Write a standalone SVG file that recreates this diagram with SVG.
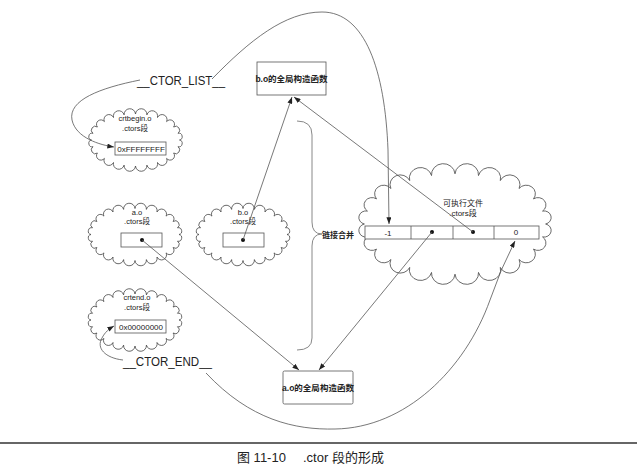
<svg xmlns="http://www.w3.org/2000/svg" xmlns:xlink="http://www.w3.org/1999/xlink" width="639" height="473" viewBox="0 0 639 473">
<style>
.bg{fill:#ffffff}
.cloud{fill:none;stroke:#444;stroke-width:0.8}
.box{fill:#fff;stroke:#555;stroke-width:0.8}
.t{font-family:"Liberation Sans","Noto Sans CJK SC",sans-serif;fill:#222;text-anchor:middle}
.s{font-size:7.5px}
.m{font-size:8px}
.b{font-size:8.5px;font-weight:bold}
.lbl{font-size:13px}
.conn{fill:none;stroke:#555;stroke-width:0.8}
.brace{fill:none;stroke:#888;stroke-width:1}
.dot{fill:#111}
</style>
<defs>
<marker id="ah" viewBox="0 0 8 6" refX="8" refY="3" markerWidth="7" markerHeight="5" markerUnits="userSpaceOnUse" orient="auto">
<path d="M0,0 L8,3 L0,6 Z" fill="#222"/>
</marker>
<path id="cloudS" d="M44,0 A1 1 0 0 1 42.5,6.7 A1 1 0 0 1 38.1,13 A1 1 0 0 1 31.1,18.4 A1 1 0 0 1 22,22.5 A1 1 0 0 1 11.4,25.1 A1 1 0 0 1 0,26 A1 1 0 0 1 -11.4,25.1 A1 1 0 0 1 -22,22.5 A1 1 0 0 1 -31.1,18.4 A1 1 0 0 1 -38.1,13 A1 1 0 0 1 -42.5,6.7 A1 1 0 0 1 -44,0 A1 1 0 0 1 -42.5,-6.7 A1 1 0 0 1 -38.1,-13 A1 1 0 0 1 -31.1,-18.4 A1 1 0 0 1 -22,-22.5 A1 1 0 0 1 -11.4,-25.1 A1 1 0 0 1 0,-26 A1 1 0 0 1 11.4,-25.1 A1 1 0 0 1 22,-22.5 A1 1 0 0 1 31.1,-18.4 A1 1 0 0 1 38.1,-13 A1 1 0 0 1 42.5,-6.7 A1 1 0 0 1 44,0 Z"/>
</defs>
<rect class="bg" x="0" y="0" width="639" height="473"/>

<g id="crtbegin">
<use xlink:href="#cloudS" class="cloud" transform="translate(135.5,140)"/>
<text class="t s" x="135" y="121">crtbegin.o</text>
<text class="t s" x="135" y="131">.ctors段</text>
<rect class="box" x="115" y="142" width="51" height="13"/>
<text class="t m" x="141" y="151.5">0xFFFFFFFF</text>
</g>

<g id="ao">
<use xlink:href="#cloudS" class="cloud" transform="translate(135,234.5)"/>
<text class="t s" x="137" y="214.5">a.o</text>
<text class="t s" x="137" y="224">.ctors段</text>
<rect class="box" x="121" y="233" width="41" height="14"/>
<circle class="dot" cx="142" cy="240" r="2"/>
</g>

<g id="bo">
<use xlink:href="#cloudS" class="cloud" transform="translate(243,234.5)"/>
<text class="t s" x="243" y="214.5">b.o</text>
<text class="t s" x="243" y="224">.ctors段</text>
<rect class="box" x="223" y="233" width="41" height="14"/>
<circle class="dot" cx="243" cy="240" r="2"/>
</g>

<g id="crtend">
<use xlink:href="#cloudS" class="cloud" transform="translate(135,320)"/>
<text class="t s" x="137" y="299.5">crtend.o</text>
<text class="t s" x="137" y="309.5">.ctors段</text>
<rect class="box" x="115" y="320" width="51" height="13"/>
<text class="t m" x="141" y="329.5">0x00000000</text>
</g>

<g id="exe">
<use xlink:href="#cloudS" class="cloud" transform="translate(455,224) scale(2.06,1.93)" style="stroke-width:0.4"/>
<text class="t m" x="463" y="206">可执行文件</text>
<text class="t m" x="463" y="216">.ctors段</text>
<rect class="box" x="365" y="226" width="174" height="13"/>
<line class="conn" x1="411" y1="226" x2="411" y2="239"/>
<line class="conn" x1="453" y1="226" x2="453" y2="239"/>
<line class="conn" x1="494" y1="226" x2="494" y2="239"/>
<text class="t m" x="388" y="235.5">-1</text>
<circle class="dot" cx="432" cy="232" r="2"/>
<circle class="dot" cx="473" cy="232" r="2"/>
<text class="t m" x="516" y="235">0</text>
</g>

<g id="bofunc">
<rect class="box" x="257" y="62" width="69" height="33"/>
<text class="t b" x="291.5" y="82">b.o的全局构造函数</text>
</g>

<g id="aofunc">
<rect class="box" x="283" y="371" width="70" height="33" rx="1.5"/>
<text class="t b" x="318" y="391">a.o的全局构造函数</text>
</g>

<g id="ctorlist">
<text class="t lbl" x="181" y="85" textLength="88" lengthAdjust="spacingAndGlyphs">__CTOR_LIST__</text>
</g>

<g id="ctorend">
<text class="t lbl" x="167.5" y="366" textLength="89" lengthAdjust="spacingAndGlyphs">__CTOR_END__</text>
</g>

<g id="merge">
<path class="brace" d="M297,121 Q312,121 312,135 L312,222 Q312,234 322,234 Q312,234 312,246 L312,338 Q312,350 297,350"/>
<text class="t b" x="338" y="237.5" style="font-size:8px">链接合并</text>
</g>

<g id="connectors">
<path class="conn" d="M142,240 L299,370" marker-end="url(#ah)"/>
<path class="conn" d="M243,240 L292,97" marker-end="url(#ah)"/>
<path class="conn" d="M473,232 L294,97" marker-end="url(#ah)"/>
<path class="conn" d="M432,232 L319,370" marker-end="url(#ah)"/>
<path class="conn" d="M212,79 C250,40 285,12 322,12 C365,12 385,70 388,150 L389,224" marker-end="url(#ah)"/>
<path class="conn" d="M140,80 C100,88 68,100 72,120 C76,138 100,145 114,147" marker-end="url(#ah)"/>
<path class="conn" d="M123,360 C105,358 96,348 102,338 C105,332 109,329 114,326" marker-end="url(#ah)"/>
<path class="conn" d="M206,373 C250,420 295,430 335,429 C405,428 465,370 490,300 Q500,270 515,241" marker-end="url(#ah)"/>
</g>

<g id="caption">
<line x1="0" y1="443" x2="637" y2="443" stroke="#333" stroke-width="1.5"/>
<text class="t" x="237" y="462" style="font-size:13px;text-anchor:start">图 11-10</text>
<text class="t" x="303" y="462" style="font-size:13px;text-anchor:start">.ctor 段的形成</text>
</g>
</svg>
